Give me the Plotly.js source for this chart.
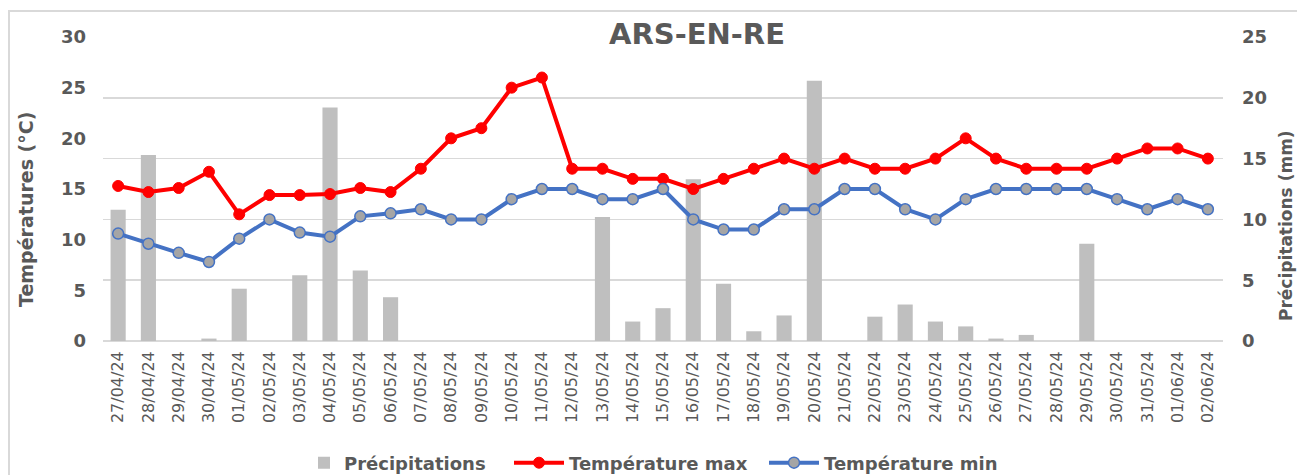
<!DOCTYPE html>
<html>
<head>
<meta charset="utf-8">
<script src="https://cdn.plot.ly/plotly-3.0.1.min.js"></script>
<style>
  html, body { margin: 0; padding: 0; background: #ffffff; }
  #chart { width: 1297px; height: 475px; }
</style>
</head>
<body>
<div id="chart"></div>
<script>
const dates = ["27/04/24","28/04/24","29/04/24","30/04/24","01/05/24","02/05/24","03/05/24","04/05/24","05/05/24","06/05/24","07/05/24","08/05/24","09/05/24","10/05/24","11/05/24","12/05/24","13/05/24","14/05/24","15/05/24","16/05/24","17/05/24","18/05/24","19/05/24","20/05/24","21/05/24","22/05/24","23/05/24","24/05/24","25/05/24","26/05/24","27/05/24","28/05/24","29/05/24","30/05/24","31/05/24","01/06/24","02/06/24"];
const precipitations = [10.8,15.3,0,0.2,4.3,0,5.4,19.2,5.8,3.6,0,0,0,0,0,0,10.2,1.6,2.7,13.3,4.7,0.8,2.1,21.4,0,2.0,3.0,1.6,1.2,0.2,0.5,0,8.0,0,0,0,0];
const tempMax = [15.3,14.7,15.1,16.7,12.5,14.4,14.4,14.5,15.1,14.7,17,20,21,25,26,17,17,16,16,15,16,17,18,17,18,17,17,18,20,18,17,17,17,18,19,19,18];
const tempMin = [10.6,9.6,8.7,7.8,10.1,12,10.7,10.3,12.3,12.6,13,12,12,14,15,15,14,14,15,12,11,11,13,13,15,15,13,12,14,15,15,15,15,14,13,14,13];

const seriesNames = ["Précipitations","Température max","Température min"];
const chartTitle = "ARS-EN-RE";
const leftTitle = "Températures (°C)";
const rightTitle = "Précipitations (mm)";

const txt = "#595959";
const grid = "#D9D9D9";
const FONT = "DejaVu Sans, Verdana, sans-serif";

const traces = [
  {
    type: "bar", name: seriesNames[0], x: dates, y: precipitations,
    marker: { color: "#BFBFBF" }, yaxis: "y", legend: "legend"
  },
  {
    type: "scatter", mode: "lines+markers", name: seriesNames[1], x: dates, y: tempMax,
    line: { color: "#FF0000", width: 4 },
    marker: { color: "#FF0000", size: 11, line: { color: "#FF0000", width: 1 } },
    yaxis: "y2", legend: "legend2"
  },
  {
    type: "scatter", mode: "lines+markers", name: seriesNames[2], x: dates, y: tempMin,
    line: { color: "#4472C4", width: 4 },
    marker: { color: "#A5A5A5", size: 11, line: { color: "#4472C4", width: 1.5 } },
    yaxis: "y2", legend: "legend3"
  }
];

const L = 103, R = 74, T = 37, B = 134;
const PW = 1297 - L - R, PH = 475 - T - B;
const px2x = px => (px - L) / PW;
const px2y = py => 1 + (T - py) / PH;

const legendBase = (xpx, w) => ({
  orientation: "h", x: px2x(xpx), xanchor: "left", y: px2y(463), yanchor: "middle",
  font: { family: FONT, size: 18, color: txt, weight: "bold" },
  itemwidth: w, bgcolor: "rgba(0,0,0,0)"
});

const layout = {
  width: 1297, height: 475,
  margin: { l: L, r: R, t: T, b: B, pad: 0, autoexpand: false },
  paper_bgcolor: "#ffffff", plot_bgcolor: "#ffffff",
  showlegend: true,
  bargap: 0.5,
  font: { family: FONT, color: txt },
  xaxis: {
    type: "category", tickangle: -90, showgrid: false, zeroline: false,
    showline: false, ticks: "", range: [-0.5, dates.length - 0.5], automargin: false,
    tickfont: { family: FONT, size: 16, color: txt },
    ticklabelstandoff: 6
  },
  yaxis: {
    side: "right", range: [0, 25], dtick: 5, tick0: 0, automargin: false,
    showgrid: true, gridcolor: grid, gridwidth: 1.5,
    zeroline: true, zerolinecolor: grid, zerolinewidth: 2,
    showline: false, ticks: "",
    tickfont: { family: FONT, size: 18, color: txt, weight: "bold" },
    ticklabelstandoff: 18
  },
  yaxis2: {
    overlaying: "y", side: "left", range: [0, 30], dtick: 5, tick0: 0, automargin: false,
    showgrid: false, zeroline: false, showline: false, ticks: "",
    tickfont: { family: FONT, size: 18, color: txt, weight: "bold" },
    ticklabelstandoff: 16
  },
  legend: legendBase(304, 30),
  legend2: legendBase(509, 50),
  legend3: legendBase(764, 50),
  annotations: [
    {
      text: chartTitle, xref: "paper", yref: "paper", x: px2x(697), y: px2y(34),
      xanchor: "center", yanchor: "middle", showarrow: false,
      font: { family: FONT, size: 29, color: txt, weight: "bold" }
    },
    {
      text: leftTitle, xref: "paper", yref: "paper", x: px2x(26), y: px2y(210),
      xanchor: "center", yanchor: "middle", showarrow: false, textangle: -90,
      font: { family: FONT, size: 19, color: txt, weight: "bold" }
    },
    {
      text: rightTitle, xref: "paper", yref: "paper", x: px2x(1286), y: px2y(226),
      xanchor: "center", yanchor: "middle", showarrow: false, textangle: -90,
      font: { family: FONT, size: 17, color: txt, weight: "bold" }
    }
  ],
  shapes: [
    {
      type: "rect", xref: "paper", yref: "paper",
      x0: px2x(9), x1: px2x(1320), y0: px2y(500), y1: px2y(11),
      line: { color: grid, width: 2 }, fillcolor: "rgba(0,0,0,0)", layer: "below"
    }
  ]
};

Plotly.newPlot("chart", traces, layout, { displayModeBar: false, staticPlot: true });
</script>
</body>
</html>
